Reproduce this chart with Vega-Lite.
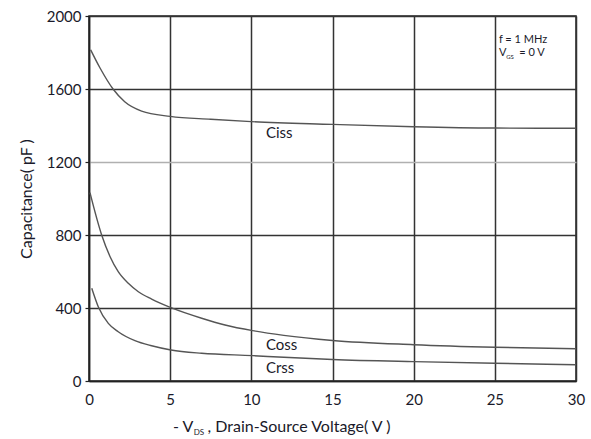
{
  "$schema": "https://vega.github.io/schema/vega-lite/v6.json",
  "width": 487,
  "height": 365,
  "autosize": "none",
  "padding": {"left": 89, "top": 16, "right": 15, "bottom": 58},
  "background": "white",
  "config": {
    "font": "Lato",
    "view": {"stroke": "#222", "strokeWidth": 1.5},
    "axis": {"labelFont": "Lato", "titleFont": "Lato"}
  },
  "datasets": {
    "curves": [
      {"series": "Ciss", "vds": 0.1, "cap": 1815},
      {"series": "Ciss", "vds": 0.68, "cap": 1715},
      {"series": "Ciss", "vds": 1.48, "cap": 1600},
      {"series": "Ciss", "vds": 2.2, "cap": 1530},
      {"series": "Ciss", "vds": 3.24, "cap": 1479},
      {"series": "Ciss", "vds": 5, "cap": 1450},
      {"series": "Ciss", "vds": 7.5, "cap": 1434},
      {"series": "Ciss", "vds": 10, "cap": 1421},
      {"series": "Ciss", "vds": 15, "cap": 1406},
      {"series": "Ciss", "vds": 20, "cap": 1393},
      {"series": "Ciss", "vds": 25, "cap": 1386},
      {"series": "Ciss", "vds": 30, "cap": 1385},
      {"series": "Coss", "vds": 0.06, "cap": 1032},
      {"series": "Coss", "vds": 0.78, "cap": 800},
      {"series": "Coss", "vds": 1.3, "cap": 681},
      {"series": "Coss", "vds": 1.8, "cap": 599},
      {"series": "Coss", "vds": 2.42, "cap": 535},
      {"series": "Coss", "vds": 3.04, "cap": 489},
      {"series": "Coss", "vds": 3.86, "cap": 449},
      {"series": "Coss", "vds": 5.05, "cap": 402},
      {"series": "Coss", "vds": 6.94, "cap": 344},
      {"series": "Coss", "vds": 8.38, "cap": 307},
      {"series": "Coss", "vds": 10.08, "cap": 276},
      {"series": "Coss", "vds": 12, "cap": 250},
      {"series": "Coss", "vds": 15, "cap": 222},
      {"series": "Coss", "vds": 20, "cap": 199},
      {"series": "Coss", "vds": 25, "cap": 185},
      {"series": "Coss", "vds": 30, "cap": 177},
      {"series": "Crss", "vds": 0.17, "cap": 508},
      {"series": "Crss", "vds": 0.57, "cap": 407},
      {"series": "Crss", "vds": 1.19, "cap": 316},
      {"series": "Crss", "vds": 1.8, "cap": 270},
      {"series": "Crss", "vds": 2.83, "cap": 221},
      {"series": "Crss", "vds": 3.86, "cap": 193},
      {"series": "Crss", "vds": 5.05, "cap": 170},
      {"series": "Crss", "vds": 6.94, "cap": 152},
      {"series": "Crss", "vds": 10.08, "cap": 139},
      {"series": "Crss", "vds": 12, "cap": 130},
      {"series": "Crss", "vds": 15, "cap": 118},
      {"series": "Crss", "vds": 20, "cap": 106},
      {"series": "Crss", "vds": 25, "cap": 97},
      {"series": "Crss", "vds": 30, "cap": 89}
    ],
    "labels": [
      {"text": "Ciss", "vds": 10.9, "cap": 1359, "size": 15},
      {"text": "Coss", "vds": 10.9, "cap": 197, "size": 15},
      {"text": "Crss", "vds": 10.9, "cap": 71, "size": 15},
      {"text": "f = 1 MHz", "vds": 25.25, "cap": 1868, "size": 11},
      {"text": "V", "vds": 25.25, "cap": 1797, "size": 11},
      {"text": "GS", "vds": 25.7, "cap": 1774, "size": 6},
      {"text": "= 0 V", "vds": 26.5, "cap": 1797, "size": 11},
      {"text": "- V", "vds": 5.17, "cap": -250, "size": 16},
      {"text": "DS", "vds": 6.45, "cap": -285, "size": 8},
      {"text": ", Drain-Source Voltage( V )", "vds": 7.3, "cap": -250, "size": 16}
    ]
  },
  "layer": [
    {
      "data": {"name": "curves"},
      "mark": {"type": "line", "interpolate": "monotone", "color": "#555", "strokeWidth": 1.4},
      "encoding": {
        "x": {
          "field": "vds", "type": "quantitative",
          "scale": {"domain": [0, 30], "nice": false},
          "axis": {
            "values": [0, 5, 10, 15, 20, 25, 30],
            "title": null,
            "domainColor": "#222", "domainWidth": 1.5,
            "gridColor": "#333", "gridWidth": 1.5, "gridOpacity": 1,
            "tickSize": 0, "labelPadding": 11, "labelFlush": false,
            "labelFontSize": 15, "labelColor": "#1a1a2a"
          }
        },
        "y": {
          "field": "cap", "type": "quantitative",
          "scale": {"domain": [0, 2000], "nice": false},
          "axis": {
            "values": [0, 400, 800, 1200, 1600, 2000],
            "format": "d",
            "labelFlush": false,
            "title": "Capacitance( pF )",
            "titleFontSize": 16, "titleFontWeight": "normal", "titleColor": "#1a1a2a",
            "titlePadding": 12,
            "domainColor": "#222", "domainWidth": 1.5,
            "gridColor": {"condition": {"test": "datum.value === 1200", "value": "#b0b0b0"}, "value": "#333"},
            "gridWidth": 1.5, "gridOpacity": 1,
            "tickSize": 4, "tickColor": "#222", "tickWidth": 1.2, "labelPadding": 4,
            "labelFontSize": 15, "labelColor": "#1a1a2a"
          }
        },
        "detail": {"field": "series"}
      }
    },
    {
      "data": {"name": "labels"},
      "mark": {"type": "text", "align": "left", "baseline": "middle", "color": "#1a1a2a", "clip": false},
      "encoding": {
        "x": {"field": "vds", "type": "quantitative"},
        "y": {"field": "cap", "type": "quantitative"},
        "text": {"field": "text"},
        "size": {"field": "size", "type": "quantitative", "scale": null}
      }
    }
  ]
}
